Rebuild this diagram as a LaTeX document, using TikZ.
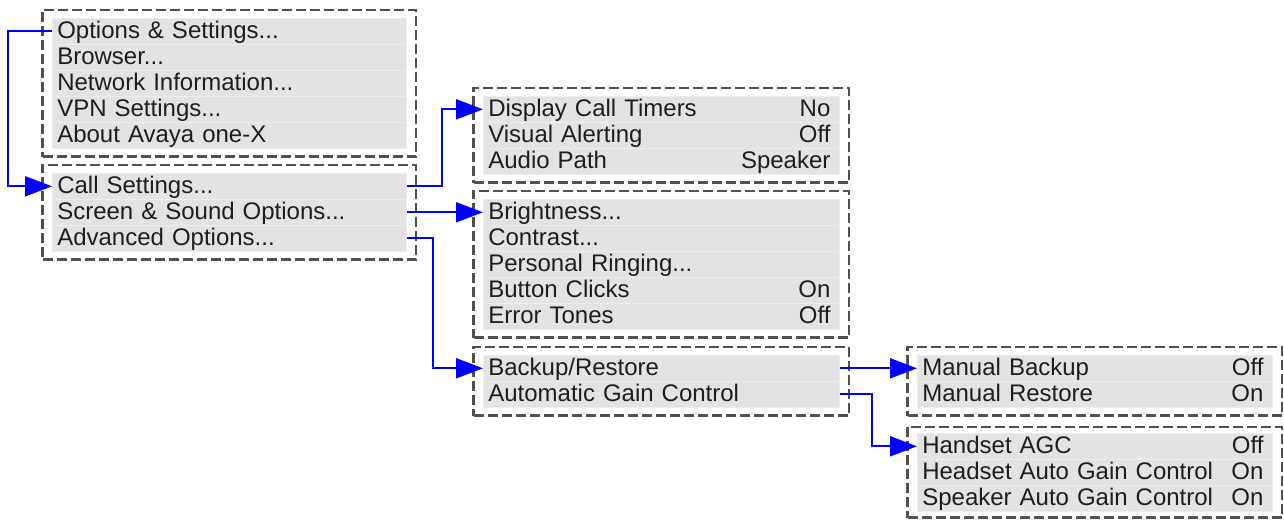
\documentclass[tikz,border=0pt]{standalone}
\usepackage{fontspec}
\setmainfont{Liberation Sans}
\usetikzlibrary{arrows.meta,fit}
\definecolor{rowgray}{HTML}{E3E3E3}
\definecolor{rowline}{HTML}{EDEDED}
\definecolor{dashgray}{HTML}{505050}
\definecolor{txt}{HTML}{1E1E1E}
\definecolor{conblue}{HTML}{0000FF}
\newcommand{\rowfnt}{\fontsize{24}{26}\selectfont}
\begin{document}
\begin{tikzpicture}[x=1pt,y=-1pt,
  row/.style={fill=rowgray, draw=rowline, line width=0.6pt, anchor=north west,
    text width=#1, align=left, inner xsep=5pt, inner ysep=2pt,
    text height=18pt, text depth=4pt, minimum height=26pt, font=\rowfnt, text=txt},
  val/.style={anchor=east, xshift=-4pt, inner xsep=5pt, inner ysep=2pt,
    text height=18pt, text depth=4pt, font=\rowfnt, text=txt},
  grp/.style={draw=dashgray, line width=2.5pt, dash pattern=on 10pt off 4pt,
    inner xsep=9.5pt, inner ysep=8pt},
  conn/.style={draw=conblue, line width=2pt, -{Triangle[length=27pt,width=20pt]}}]
\useasboundingbox (0,0) rectangle (1284,519);
% Box A
\node[row=344pt] (a1) at (52,18) {Options \& Settings...};
\node[row=344pt] (a2) at (52,44) {Browser...};
\node[row=344pt] (a3) at (52,70) {Network Information...};
\node[row=344pt] (a4) at (52,96) {VPN Settings...};
\node[row=344pt] (a5) at (52,122) {About Avaya one-X};
% Box B
\node[row=344pt] (b1) at (52,173) {Call Settings...};
\node[row=344pt] (b2) at (52,199) {Screen \& Sound Options...};
\node[row=344pt] (b3) at (52,225) {Advanced Options...};
% Box C
\node[row=346pt] (c1) at (483,96) {Display Call Timers};
\node[row=346pt] (c2) at (483,122) {Visual Alerting};
\node[row=346pt] (c3) at (483,148) {Audio Path};
\node[val] (c1v) at (c1.east) {No};
\node[val] (c2v) at (c2.east) {Off};
\node[val] (c3v) at (c3.east) {Speaker};
% Box D
\node[row=346pt] (d1) at (483,199) {Brightness...};
\node[row=346pt] (d2) at (483,225) {Contrast...};
\node[row=346pt] (d3) at (483,251) {Personal Ringing...};
\node[row=346pt] (d4) at (483,277) {Button Clicks};
\node[row=346pt] (d5) at (483,303) {Error Tones};
\node[val] (d4v) at (d4.east) {On};
\node[val] (d5v) at (d5.east) {Off};
% Box E
\node[row=346pt] (e1) at (483,355) {Backup/Restore};
\node[row=346pt] (e2) at (483,381) {Automatic Gain Control};
% Box F
\node[row=345pt] (f1) at (917,355) {Manual Backup};
\node[row=345pt] (f2) at (917,381) {Manual Restore};
\node[val] (f1v) at (f1.east) {Off};
\node[val] (f2v) at (f2.east) {On};
% Box G
\node[row=345pt] (g1) at (917,433) {Handset AGC};
\node[row=345pt] (g2) at (917,459) {Headset Auto Gain Control};
\node[row=345pt] (g3) at (917,485) {Speaker Auto Gain Control};
\node[val] (g1v) at (g1.east) {Off};
\node[val] (g2v) at (g2.east) {On};
\node[val] (g3v) at (g3.east) {On};
% Dashed groups
\node[grp, fit=(a1)(a5)] (A) {};
\node[grp, fit=(b1)(b3)] (B) {};
\node[grp, fit=(c1)(c3)] (C) {};
\node[grp, fit=(d1)(d5)] (D) {};
\node[grp, fit=(e1)(e2)] (E) {};
\node[grp, fit=(f1)(f2)] (F) {};
\node[grp, fit=(g1)(g3), inner ysep=6pt] (G) {};
% Connectors
\draw[conn] (a1.west) -- ++(-44,0) |- (b1.west);
\draw[conn] (b1.east) -- ++(35,0) |- (c1.west);
\draw[conn] (b2.east) -- (d1.west);
\draw[conn] (b3.east) -- ++(26,0) |- (e1.west);
\draw[conn] (e1.east) -- (f1.west);
\draw[conn] (e2.east) -- ++(32,0) |- (g1.west);
\end{tikzpicture}
\end{document}
